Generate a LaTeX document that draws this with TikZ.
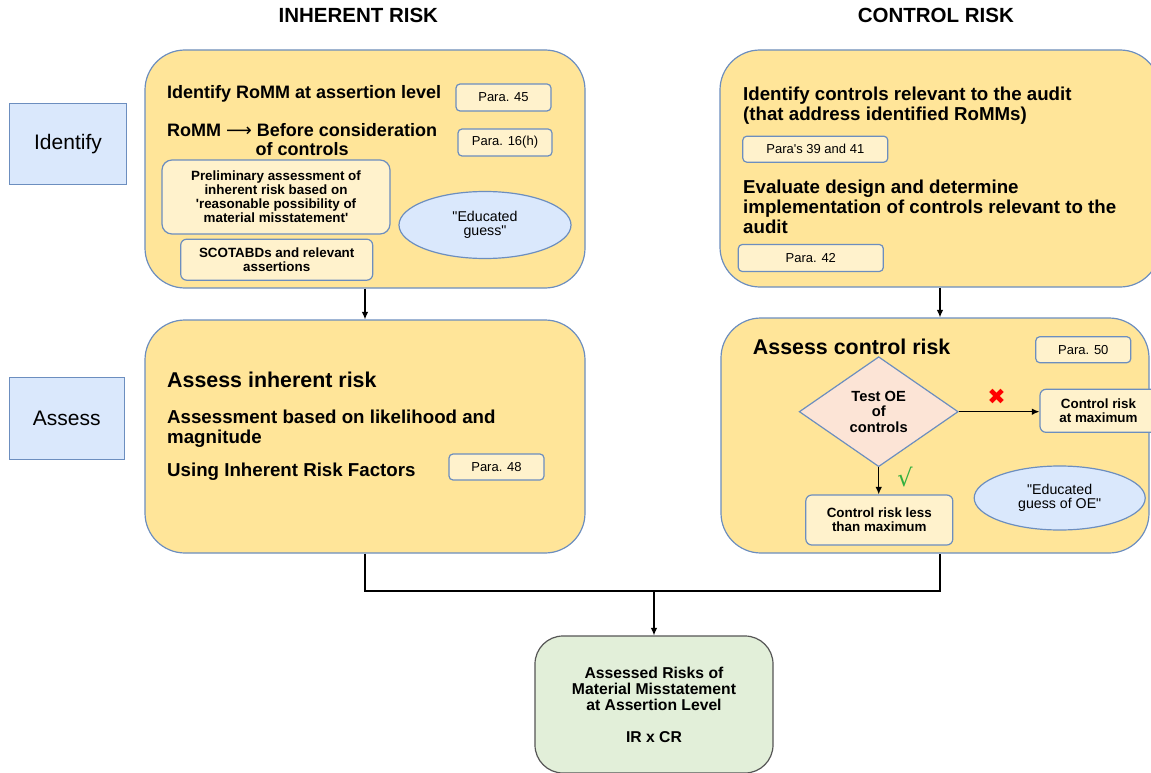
\documentclass[tikz,border=0pt]{standalone}
\usepackage{fontspec}
\setmainfont{Liberation Sans}
\newfontfamily\markfont{DejaVu Sans}
\usetikzlibrary{
    shapes.geometric,
    arrows.meta,
    positioning,
    calc
}
\definecolor{stagefill}{HTML}{FFE599}
\definecolor{notefill}{HTML}{FFF2CC}
\definecolor{edgeblue}{HTML}{6C8EBF}
\definecolor{guessfill}{HTML}{DAE8FC}
\definecolor{testfill}{HTML}{FCE4D6}
\definecolor{resultfill}{HTML}{E2EFD9}
\definecolor{resultedge}{HTML}{555555}
\definecolor{okgreen}{HTML}{33B040}
\tikzset{
    stage/.style = {
        rectangle,
        draw=edgeblue,
        fill=stagefill,
        line width=1.2pt,
        rounded corners=40pt,
        inner sep=0pt
    },
    phase/.style = {
        rectangle,
        draw=edgeblue,
        fill=guessfill,
        line width=1.2pt,
        inner sep=0pt,
        font=\fontsize{21}{24}\selectfont
    },
    para/.style = {
        rectangle,
        draw=edgeblue,
        fill=notefill,
        line width=1.2pt,
        rounded corners=4pt,
        inner sep=0pt,
        font=\fontsize{13}{15}\selectfont
    },
    note/.style = {
        rectangle,
        draw=edgeblue,
        fill=notefill,
        line width=1.2pt,
        rounded corners=6pt,
        inner sep=0pt,
        align=center,
        font=\fontsize{13.4}{14}\selectfont\bfseries
    },
    guess/.style = {
        ellipse,
        draw=edgeblue,
        fill=guessfill,
        line width=1.2pt,
        inner sep=0pt,
        align=center,
        font=\fontsize{14.2}{14.5}\selectfont
    },
    decision/.style = {
        diamond,
        draw=edgeblue,
        fill=testfill,
        line width=1.2pt,
        inner sep=0pt,
        align=center,
        font=\fontsize{14.7}{15.5}\selectfont\bfseries
    },
    result/.style = {
        rectangle,
        draw=resultedge,
        fill=resultfill,
        line width=1.2pt,
        rounded corners=28pt,
        inner sep=0pt,
        align=center,
        font=\fontsize{15.7}{16}\selectfont\bfseries
    },
    title/.style = {
        inner sep=0pt,
        font=\fontsize{20.5}{24}\selectfont\bfseries
    },
    heading/.style = {
        anchor=north west,
        inner sep=0pt,
        font=\fontsize{21.4}{24}\selectfont\bfseries
    },
    body/.style = {
        anchor=north west,
        inner sep=0pt,
        align=left,
        font=\fontsize{18.7}{20}\selectfont\bfseries
    },
    arrow/.style = {
        -{Latex[length=7.5pt,width=6.5pt]},
        line width=1.2pt
    },
    link/.style = {
        line width=1.2pt
    }
}

\begin{document}
\begin{tikzpicture}[x=1pt, y=-1pt]
\useasboundingbox (0,0) rectangle (1151,773);

% column titles
\node[title] (irhead) at (358.3,15) {INHERENT RISK};
\node[title] (crhead) at (935.8,15) {CONTROL RISK};

% row labels
\node[phase, minimum width=117pt, minimum height=81pt] (identify) at (68,143.8) {Identify};
\node[phase, minimum width=115pt, minimum height=82pt] (assess) at (66.8,418.3) {Assess};

% the four stages
\node[stage, minimum width=440pt, minimum height=238pt] (irid) at (365,169) {};
\node[stage, minimum width=440pt, minimum height=233pt] (iras) at (365,436.5) {};
\node[stage, minimum width=440pt, minimum height=237pt] (crid) at (940,168.5) {};
\node[stage, minimum width=428pt, minimum height=235pt] (cras) at (935,435.5) {};

% inherent risk - identify
\node[body, font=\fontsize{18}{19}\selectfont\bfseries] (romm) at (167,85) {Identify RoMM at assertion level};
\node[body, align=center, font=\fontsize{18}{19}\selectfont\bfseries] (before) at (167,123)
    {RoMM {\markfont\mdseries ⟶} Before consideration\\of controls};
\node[para, minimum width=95pt, minimum height=27pt] (p45) at (503.5,97.5) {Para. 45};
\node[para, minimum width=94pt, minimum height=27pt] (p16) at (505,142.5) {Para. 16(h)};
\node[note, minimum width=228pt, minimum height=74pt, rounded corners=10pt] (prelim) at (276,197)
    {Preliminary assessment of\\inherent risk based on\\\textquotesingle reasonable possibility of\\material misstatement\textquotesingle};
\node[note, minimum width=192pt, minimum height=41pt] (scota) at (276.7,259.7) {SCOTABDs and relevant\\assertions};
\node[guess, minimum width=172pt, minimum height=67pt] (irguess) at (485,225) {\textquotedbl Educated\\guess\textquotedbl};

% inherent risk - assess
\node[heading] (irtitle) at (167,371.7) {Assess inherent risk};
\node[body] (likely) at (167,410) {Assessment based on likelihood and\\magnitude};
\node[body] (factors) at (167,462.7) {Using Inherent Risk Factors};
\node[para, minimum width=95pt, minimum height=26pt] (p48) at (496.5,467) {Para. 48};

% control risk - identify
\node[body] (relevant) at (743,86.7) {Identify controls relevant to the audit\\(that address identified RoMMs)};
\node[para, minimum width=145pt, minimum height=26pt] (p39) at (815.3,149.2) {Para\textquotesingle s 39 and 41};
\node[body] (design) at (743,180) {Evaluate design and determine\\implementation of controls relevant to the\\audit};
\node[para, minimum width=145pt, minimum height=27pt] (p42) at (810.8,258) {Para. 42};

% control risk - assess
\node[heading] (crtitle) at (752.7,338.3) {Assess control risk};
\node[para, minimum width=95pt, minimum height=26pt] (p50) at (1083.3,349.7) {Para. 50};
\node[decision, minimum width=159pt, minimum height=110pt] (testoe) at (878.7,411.7) {Test OE\\of\\controls};
\node[note, minimum width=117pt, minimum height=43pt] (crmax) at (1098.5,410.8) {Control risk\\at maximum};
\node[note, minimum width=147pt, minimum height=50pt] (crless) at (879.3,520) {Control risk less\\than maximum};
\node[guess, minimum width=171pt, minimum height=64pt] (crguess) at (1059.7,498) {\textquotedbl Educated\\guess of OE\textquotedbl};
\draw[arrow] (testoe.east) -- (testoe.east -| crmax.west);
\draw[arrow] (testoe.south) -- (testoe.south |- crless.north);
\node[text=red, font=\markfont\fontsize{22}{22}\selectfont] (nomark) at (996.7,397.3) {✖};
\node[text=okgreen, font=\markfont\fontsize{24}{24}\selectfont] (yesmark) at (905,477.3) {√};

% result
\node[result, minimum width=238pt, minimum height=137pt] (final) at (654,704.5)
    {Assessed Risks of\\Material Misstatement\\at Assertion Level\\[16pt]IR x CR};

% connectors
\coordinate (merge) at (654,591);
\coordinate (crfoot) at (crid.south |- cras.south);
\draw[arrow] (irid.south) -- (iras.north);
\draw[arrow] (crid.south) -- (crid.south |- cras.north);
\draw[link] (iras.south) |- (merge) -| (crfoot);
\draw[arrow] (merge) -- (final.north);
\end{tikzpicture}
\end{document}
